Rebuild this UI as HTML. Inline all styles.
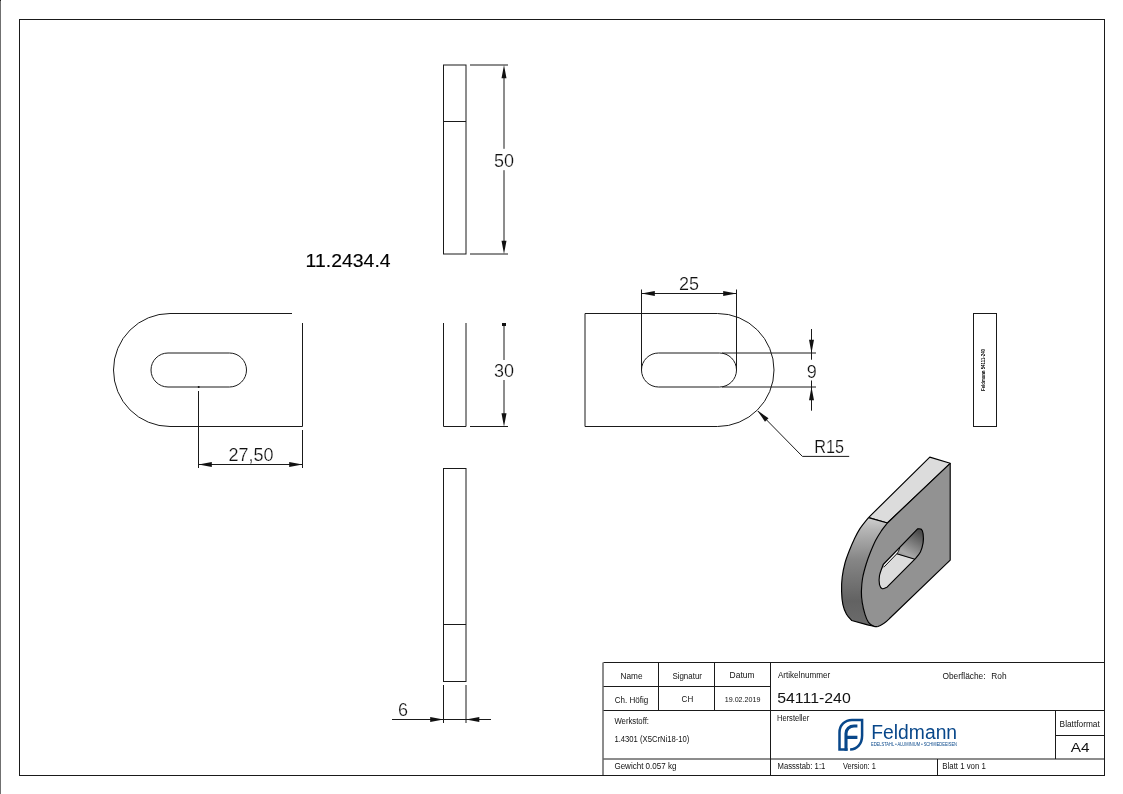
<!DOCTYPE html>
<html><head><meta charset="utf-8">
<style>
html,body{margin:0;padding:0;background:#fff;width:1123px;height:794px;overflow:hidden}
svg{display:block;position:absolute;left:0;top:0;will-change:transform}
text{font-family:"Liberation Sans",sans-serif;fill:#111}
</style></head>
<body>
<svg width="1123" height="794" viewBox="0 0 1123 794">
<defs>
<linearGradient id="side" gradientUnits="userSpaceOnUse" x1="850" y1="518" x2="852" y2="622">
<stop offset="0" stop-color="#d0d0d0"/><stop offset="0.12" stop-color="#b4b4b4"/><stop offset="0.4" stop-color="#868686"/><stop offset="0.8" stop-color="#626262"/><stop offset="1" stop-color="#6a6a6a"/>
</linearGradient>
<linearGradient id="slotg" gradientUnits="userSpaceOnUse" x1="920" y1="532" x2="905" y2="558">
<stop offset="0" stop-color="#4c4c4c"/><stop offset="0.85" stop-color="#a8a8a8"/><stop offset="1" stop-color="#9a9a9a"/>
</linearGradient>
</defs>
<g fill="none" stroke="#1a1a1a" stroke-width="1">
<!-- page edge -->
<line x1="0.5" y1="0" x2="0.5" y2="794" stroke="#707070"/>
<rect x="0" y="0" width="1" height="1" fill="#222" stroke="none"/>
<!-- frame -->
<rect x="19.5" y="19.5" width="1085" height="756"/>

<!-- top view -->
<rect x="443.5" y="65" width="22.5" height="189"/>
<line x1="443.5" y1="121.5" x2="466" y2="121.5"/>
<line x1="470" y1="65" x2="508" y2="65"/>
<line x1="470" y1="254" x2="508" y2="254"/>
<line x1="504" y1="70" x2="504" y2="148.8"/>
<line x1="504" y1="170.2" x2="504" y2="249"/>

<!-- middle view -->
<polyline points="443.5,323 443.5,426.5 466,426.5 466,323"/>
<line x1="470" y1="426.5" x2="508" y2="426.5"/>
<line x1="504" y1="324" x2="504" y2="360"/>
<line x1="504" y1="380" x2="504" y2="421"/>

<!-- bottom view -->
<rect x="443.5" y="468.5" width="22.5" height="213"/>
<line x1="443.5" y1="624.5" x2="466" y2="624.5"/>
<line x1="443.5" y1="685" x2="443.5" y2="723"/>
<line x1="466" y1="685" x2="466" y2="723"/>
<line x1="392" y1="719.5" x2="491" y2="719.5"/>

<!-- left view -->
<path d="M292 313.5 H170 A56.5 56.5 0 0 0 170 426.5 H302.5 V323"/>
<rect x="151" y="353" width="95.5" height="34" rx="17" ry="17"/>
<line x1="198.5" y1="391" x2="198.5" y2="468"/>
<line x1="302.5" y1="430" x2="302.5" y2="468"/>
<line x1="198.5" y1="464.5" x2="302.5" y2="464.5"/>

<!-- right view -->
<path d="M717.5 313.5 H585 V426.5 H717.5 A56.5 56.5 0 0 0 717.5 313.5"/>
<rect x="641.5" y="353" width="95" height="34" rx="17" ry="17"/>
<line x1="641.5" y1="289.5" x2="641.5" y2="370.4"/>
<line x1="736.5" y1="289.5" x2="736.5" y2="370.4"/>
<line x1="641.5" y1="293.5" x2="736.5" y2="293.5"/>
<line x1="722" y1="353" x2="816" y2="353"/>
<line x1="722" y1="387" x2="816" y2="387"/>
<line x1="811.5" y1="329" x2="811.5" y2="359.7"/>
<line x1="811.5" y1="380.5" x2="811.5" y2="410.7"/>
<polyline points="757.8,411 802.4,456.4 849.2,456.4"/>

<!-- small rect -->
<rect x="973.5" y="313.5" width="23" height="113"/>

<!-- title block -->
<line x1="603.5" y1="662.5" x2="1104.5" y2="662.5"/>
<line x1="603" y1="662.5" x2="603" y2="775.5"/>
<line x1="658.5" y1="662.5" x2="658.5" y2="710.5"/>
<line x1="714.5" y1="662.5" x2="714.5" y2="710.5"/>
<line x1="770.5" y1="662.5" x2="770.5" y2="775.5"/>
<line x1="603.5" y1="686.5" x2="770.5" y2="686.5"/>
<line x1="603.5" y1="710.5" x2="1104.5" y2="710.5"/>
<line x1="603.5" y1="759" x2="1104.5" y2="759"/>
<line x1="1055.5" y1="710.5" x2="1055.5" y2="759"/>
<line x1="1055" y1="735.5" x2="1104.5" y2="735.5"/>
<line x1="937.5" y1="759" x2="937.5" y2="775.5"/>
</g>

<!-- arrows -->
<g fill="#111" stroke="none">
<path d="M504 65.00 L501.5 78.30 L506.5 78.30 Z"/>
<path d="M504 254.00 L506.5 240.70 L501.5 240.70 Z"/>
<path d="M504 426.50 L506.5 413.20 L501.5 413.20 Z"/>
<path d="M443.50 719.50 L430.20 717.00 L430.20 722.00 Z"/>
<path d="M466.00 719.50 L479.30 722.00 L479.30 717.00 Z"/>
<path d="M198.50 464.50 L211.80 467.00 L211.80 462.00 Z"/>
<path d="M302.50 464.50 L289.20 462.00 L289.20 467.00 Z"/>
<path d="M641.50 293.50 L654.80 296.00 L654.80 291.00 Z"/>
<path d="M736.50 293.50 L723.20 291.00 L723.20 296.00 Z"/>
<path d="M811.50 353.00 L814.00 339.70 L809.00 339.70 Z"/>
<path d="M811.50 387.00 L809.00 400.30 L814.00 400.30 Z"/>
<path d="M757.40 410.50 L764.97 421.71 L768.53 418.20 Z"/>
<rect x="502" y="323" width="4" height="3"/>
<circle cx="198.7" cy="387" r="1"/>
</g>

<!-- dimension text -->
<g font-size="18" style="fill:#000;stroke:#fff;stroke-width:0.22">
<text x="504" y="167" text-anchor="middle">50</text>
<text x="504" y="377" text-anchor="middle">30</text>
<text x="403" y="716" text-anchor="middle">6</text>
<text x="251" y="461" text-anchor="middle">27,50</text>
<text x="689" y="290" text-anchor="middle">25</text>
<text x="811.8" y="377.5" text-anchor="middle">9</text>
<text x="814.2" y="453" textLength="29.8" lengthAdjust="spacingAndGlyphs">R15</text>
</g>
<text x="305.6" y="266.8" font-size="18.67" textLength="85" lengthAdjust="spacingAndGlyphs" style="fill:#000;stroke:#000;stroke-width:0.15">11.2434.4</text>
<text transform="translate(984.8 391) rotate(-90)" font-size="5" font-weight="bold" textLength="42" lengthAdjust="spacingAndGlyphs" style="fill:#000">Feldmann 54111-240</text>

<!-- 3D view -->
<g stroke="#000" stroke-width="1.15" stroke-linejoin="round">
<path d="M929.8 457.1 L950.2 463.3 L887.4 523 L868.5 517.6 Z" fill="#dcdcdc"/>
<path d="M868.5 517.6 C867.0 519.5 862.2 525.1 859.8 528.9 C857.3 532.7 855.5 536.7 853.8 540.2 C852.1 543.7 851.1 546.2 849.6 550.0 C848.1 553.8 846.2 558.5 845.0 563.0 C843.8 567.5 842.8 572.3 842.2 577.0 C841.6 581.7 841.5 586.8 841.6 591.4 C841.7 596.0 842.1 600.8 842.9 604.6 C843.7 608.4 845.0 611.6 846.5 614.3 C848.0 616.9 850.8 619.5 851.7 620.5 L867.6 624.9 L873.8 626.2 C872.9 625.6 870.0 624.3 868.5 622.3 C867.0 620.3 866.0 617.5 865.0 614.3 C864.0 611.1 862.9 606.7 862.3 602.9 C861.7 599.1 861.3 595.5 861.4 591.4 C861.5 587.2 861.8 582.6 862.6 578.0 C863.4 573.4 864.9 568.3 866.2 564.0 C867.5 559.7 868.8 556.3 870.4 552.3 C872.0 548.3 873.8 543.9 875.7 540.2 C877.6 536.6 879.8 533.3 881.7 530.4 C883.7 527.5 886.5 524.2 887.4 523.0 Z" fill="url(#side)" stroke="none"/>
<path d="M950.2 463.3 L950.2 560.2 L890 618 C887 621 884 624.5 877.3 626.7 C876.7 626.6 875.3 626.9 873.8 626.2 C872.3 625.5 870.0 624.3 868.5 622.3 C867.0 620.3 866.0 617.5 865.0 614.3 C864.0 611.1 862.9 606.7 862.3 602.9 C861.7 599.1 861.3 595.5 861.4 591.4 C861.5 587.2 861.8 582.6 862.6 578.0 C863.4 573.4 864.9 568.3 866.2 564.0 C867.5 559.7 868.8 556.3 870.4 552.3 C872.0 548.3 873.8 543.9 875.7 540.2 C877.6 536.6 879.8 533.3 881.7 530.4 C883.7 527.5 886.5 524.2 887.4 523.0 Z" fill="#929292" stroke="none"/>
<path d="M883.2 564.5 L917.6 528.8 C918.2 528.9 920.4 528.5 921.3 529.3 C922.2 530.1 922.8 531.5 923.1 533.8 C923.4 536.1 923.6 539.9 923.1 542.9 C922.6 545.9 921.8 549.2 920.4 551.9 C919.0 554.6 915.8 558.0 914.9 559.2 L886.8 587.3 C886.0 587.5 883.5 589.2 882.3 588.7 C881.1 588.2 880.0 586.8 879.5 584.6 C879.0 582.4 878.9 578.9 879.5 575.5 C880.1 572.1 882.6 566.3 883.2 564.5 Z" fill="url(#slotg)" stroke="none"/>
<path d="M884.2 567.2 L896.8 554.2 L914.9 559.2 L886.8 587.3 C886.0 587.5 883.5 589.2 882.3 588.7 C881.1 588.2 880.0 586.8 879.5 584.6 C879.0 582.4 879.5 577.0 879.5 575.5 C880 572.5 881 570 882.2 568.6 Z" fill="#dcdcdc" stroke="none"/>
<path d="M883.6 564.6 L899.8 547.8 C898.8 550.5 897.8 552.6 896.8 553.8 L884.3 566.6 Z" fill="#f4f4f4" stroke="none"/>
<path d="M884.2 566.8 L896.8 553.8 C898 552.4 899 550.5 899.8 547.8" fill="none" stroke-width="0.9"/>
<path d="M896.8 553.8 L914.9 559.2" fill="none"/>
<path d="M883.2 564.5 L917.6 528.8 C918.2 528.9 920.4 528.5 921.3 529.3 C922.2 530.1 922.8 531.5 923.1 533.8 C923.4 536.1 923.6 539.9 923.1 542.9 C922.6 545.9 921.8 549.2 920.4 551.9 C919.0 554.6 915.8 558.0 914.9 559.2 L886.8 587.3 C886.0 587.5 883.5 589.2 882.3 588.7 C881.1 588.2 880.0 586.8 879.5 584.6 C879.0 582.4 878.9 578.9 879.5 575.5 C880.1 572.1 882.6 566.3 883.2 564.5 Z" fill="none"/>
<path d="M868.5 517.6 C867.0 519.5 862.2 525.1 859.8 528.9 C857.3 532.7 855.5 536.7 853.8 540.2 C852.1 543.7 851.1 546.2 849.6 550.0 C848.1 553.8 846.2 558.5 845.0 563.0 C843.8 567.5 842.8 572.3 842.2 577.0 C841.6 581.7 841.5 586.8 841.6 591.4 C841.7 596.0 842.1 600.8 842.9 604.6 C843.7 608.4 845.0 611.6 846.5 614.3 C848.0 616.9 850.8 619.5 851.7 620.5 L867.6 624.9 L873.8 626.2" fill="none"/>
<path d="M877.3 626.7 C876.7 626.6 875.3 626.9 873.8 626.2 C872.3 625.5 870.0 624.3 868.5 622.3 C867.0 620.3 866.0 617.5 865.0 614.3 C864.0 611.1 862.9 606.7 862.3 602.9 C861.7 599.1 861.3 595.5 861.4 591.4 C861.5 587.2 861.8 582.6 862.6 578.0 C863.4 573.4 864.9 568.3 866.2 564.0 C867.5 559.7 868.8 556.3 870.4 552.3 C872.0 548.3 873.8 543.9 875.7 540.2 C877.6 536.6 879.8 533.3 881.7 530.4 C883.7 527.5 886.5 524.2 887.4 523.0" fill="none"/>
<path d="M868.5 517.6 L887.4 523 L950.2 463.3" fill="none"/>
<path d="M950.2 463.3 L950.2 560.2 L890 618 C887 621 884 624.5 877.3 626.7" fill="none"/>
</g>

<!-- title block text -->
<g font-size="8.5" style="fill:#222">
<text x="620.5" y="679" textLength="22" lengthAdjust="spacingAndGlyphs">Name</text>
<text x="672.4" y="679" textLength="29.6" lengthAdjust="spacingAndGlyphs">Signatur</text>
<text x="729.6" y="678.4" textLength="24.9" lengthAdjust="spacingAndGlyphs">Datum</text>
<text x="614.7" y="702.6" textLength="33.5" lengthAdjust="spacingAndGlyphs">Ch. Höfig</text>
<text x="681.6" y="702.3" textLength="11.6" lengthAdjust="spacingAndGlyphs">CH</text>
<text x="724.7" y="702.4" font-size="7.6" textLength="35.8" lengthAdjust="spacingAndGlyphs">19.02.2019</text>
<text x="777.9" y="678.3" textLength="52.2" lengthAdjust="spacingAndGlyphs">Artikelnummer</text>
<text x="942.4" y="678.5" textLength="43.2" lengthAdjust="spacingAndGlyphs">Oberfläche:</text>
<text x="991.3" y="678.5" textLength="15.3" lengthAdjust="spacingAndGlyphs">Roh</text>
<text x="777" y="721.2" textLength="32.2" lengthAdjust="spacingAndGlyphs">Hersteller</text>
<text x="614.4" y="723.9" textLength="34.6" lengthAdjust="spacingAndGlyphs">Werkstoff:</text>
<text x="614.4" y="742.3" textLength="75" lengthAdjust="spacingAndGlyphs">1.4301 (X5CrNi18-10)</text>
<text x="614.4" y="769.3" textLength="62" lengthAdjust="spacingAndGlyphs">Gewicht 0.057 kg</text>
<text x="777.5" y="769.3" textLength="47.8" lengthAdjust="spacingAndGlyphs">Massstab: 1:1</text>
<text x="843" y="769.3" textLength="32.8" lengthAdjust="spacingAndGlyphs">Version: 1</text>
<text x="942.3" y="769.3" textLength="43.6" lengthAdjust="spacingAndGlyphs">Blatt 1 von 1</text>
<text x="1059.6" y="727.2" textLength="40.2" lengthAdjust="spacingAndGlyphs">Blattformat</text>
</g>
<text x="777.2" y="702.7" font-size="15.5" textLength="73.6" lengthAdjust="spacingAndGlyphs">54111-240</text>
<text x="1070.7" y="751.8" font-size="13.6" textLength="18.8" lengthAdjust="spacingAndGlyphs">A4</text>

<!-- logo -->
<g fill="none" stroke="#08478a" stroke-linecap="butt" stroke-linejoin="miter">
<path d="M847.6 749.5 H839.5 V732.5 C839.5 725 845 720 852 720 H862.1 V735.5 C862.1 744 857 749.5 850.1 749.5" stroke-width="2.5"/>
<path d="M846 750.8 V733.5 C846 729 849.5 726 854 726 H857.4 M846 737.4 H857.4" stroke-width="3.1"/>
</g>
<text x="871.3" y="739" font-size="20" textLength="85.8" lengthAdjust="spacingAndGlyphs" style="fill:#08478a">Feldmann</text>
<text x="871" y="745.8" font-size="4.6" textLength="86" lengthAdjust="spacingAndGlyphs" style="fill:#08478a">EDELSTAHL • ALUMINIUM • SCHMIEDEEISEN</text>
</svg>
</body></html>
